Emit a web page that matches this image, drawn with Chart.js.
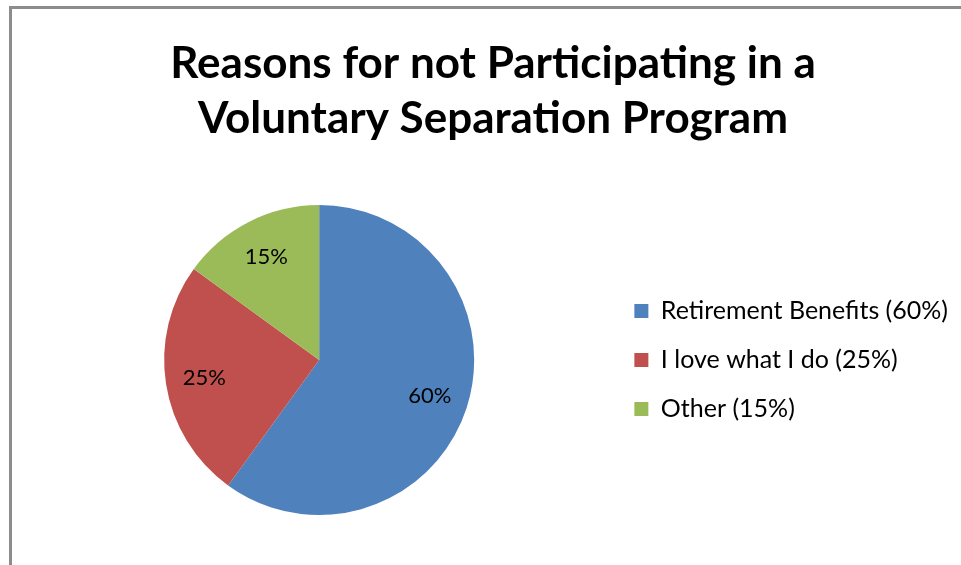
<!DOCTYPE html>
<html>
<head>
<meta charset="utf-8">
<script src="https://cdn.jsdelivr.net/npm/chart.js@4"></script>
<style>
  html, body { margin: 0; padding: 0; background: #fff; overflow: hidden; }
  #wrap { position: relative; width: 961px; height: 565px; }
  #frame { position: absolute; left: 9px; top: 6px; width: 1000px; height: 620px;
           border-left: 3px solid #8c8c8c; border-top: 3px solid #8c8c8c; pointer-events: none; }
</style>
</head>
<body>
<div id="wrap">
  <canvas id="pieChart" width="961" height="565"></canvas>
  <div id="frame"></div>
</div>
<script>
// data
const categories = ['Retirement Benefits', 'I love what I do', 'Other'];
const shares = [60, 25, 15];
const sliceColors = ['#4F81BD', '#C0504D', '#9BBB59'];
const titleLines = ['Reasons for not Participating in a', 'Voluntary Separation Program'];

const FONT = 'Lato, "Open Sans", sans-serif';
const total = shares.reduce((a, b) => a + b, 0);
const pct = v => Math.round(v / total * 100) + '%';

// percent labels inside the slices
const sliceLabels = {
  id: 'sliceLabels',
  afterDatasetsDraw(chart) {
    const ctx = chart.ctx;
    const meta = chart.getDatasetMeta(0);
    ctx.save();
    ctx.font = '22px ' + FONT;
    ctx.fillStyle = '#000';
    ctx.textAlign = 'center';
    ctx.textBaseline = 'middle';
    meta.data.forEach((arc, i) => {
      const p = arc.getProps(['x', 'y', 'startAngle', 'endAngle', 'outerRadius'], true);
      const mid = (p.startAngle + p.endAngle) / 2;
      const r = p.outerRadius * 0.75;
      ctx.fillText(pct(shares[i]), p.x + Math.cos(mid) * r, p.y + Math.sin(mid) * r);
    });
    ctx.restore();
  }
};

new Chart(document.getElementById('pieChart'), {
  type: 'pie',
  data: {
    labels: categories,
    datasets: [{ data: shares, backgroundColor: sliceColors, borderWidth: 0 }]
  },
  options: {
    responsive: false, animation: false,
    layout: { padding: { left: 28, right: 3, top: 0, bottom: 50 } },
    plugins: {
      title: {
        display: true, text: titleLines, color: '#000',
        font: { family: FONT, size: 44, weight: 'bold', lineHeight: 1.25 },
        padding: { top: 36, bottom: 59 }
      },
      legend: {
        position: 'right', fullSize: false,
        labels: {
          color: '#000', boxWidth: 14, boxHeight: 14, padding: 24,
          font: { family: FONT, size: 25 },
          generateLabels(chart) {
            const items = Chart.overrides.pie.plugins.legend.labels.generateLabels(chart);
            items.forEach((it, i) => { it.text = categories[i] + ' (' + pct(shares[i]) + ')'; it.lineWidth = 0; });
            return items;
          }
        }
      },
      tooltip: { enabled: false }
    }
  },
  plugins: [sliceLabels]
});
</script>
</body>
</html>
